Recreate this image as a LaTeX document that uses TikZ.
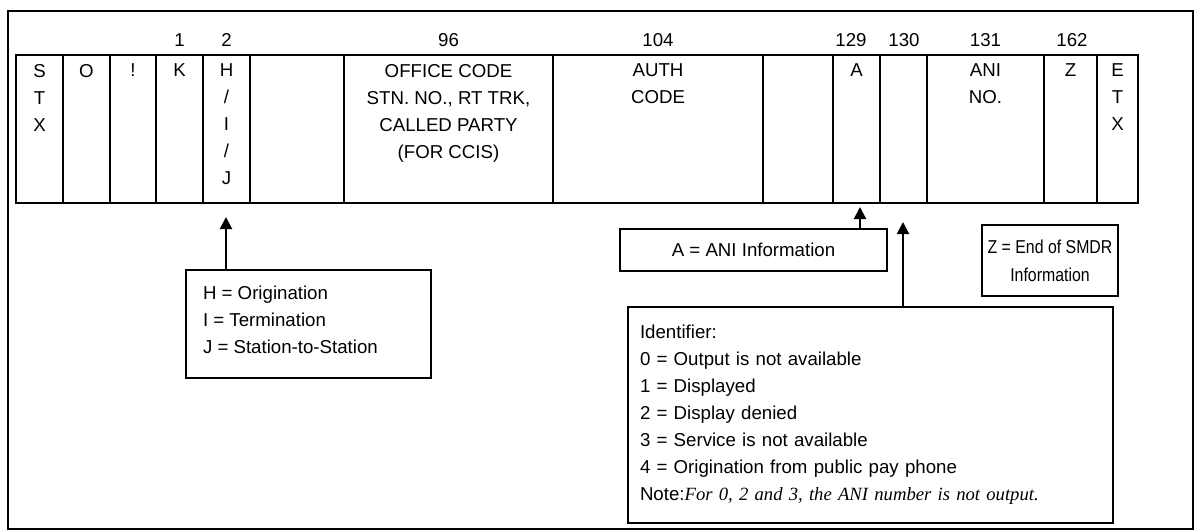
\documentclass[tikz,border=0pt]{standalone}
\usepackage{fontspec}
\usepackage{graphicx}
\setmainfont{Liberation Sans}
\newfontfamily\noteit{Liberation Serif}
\usetikzlibrary{arrows.meta}

\tikzset{
  field/.style={anchor=north,align=center,inner sep=0pt},
  bitnum/.style={inner sep=0pt},
  infobox/.style={draw,line width=1.5pt,inner sep=0pt},
  pointer/.style={line width=1.5pt,-{Triangle[length=9pt,width=9pt]}}
}

\begin{document}
\begin{tikzpicture}[x=0.75pt,y=-0.75pt,line width=1.5pt,
  font=\fontsize{14}{20.25}\selectfont]
  \useasboundingbox (0,0) rectangle (1195,531);
  \draw (8,11) rectangle (1193,529);
  % the record
  \draw (16,55) rectangle (1138,203);
  \foreach \x in {63,110,156,203,250,344,553,763,833,880,927,1044,1097}
    \draw (\x,55) -- (\x,203);
  \node[field] (stx) at (39.5,63) {S\\T\\X};
  \node[field] (o) at (86.5,63) {O};
  \node[field] (excl) at (133,63) {!};
  \node[field] (k) at (179.5,63) {K};
  \node[field] (hij) at (226.5,63) {H\\/\\I\\/\\J};
  \node[field] (office) at (448.5,63) {OFFICE CODE\\STN. NO., RT TRK,\\CALLED PARTY\\(FOR CCIS)};
  \node[field] (auth) at (658,63) {AUTH\\CODE};
  \node[field] (a) at (856.5,63) {A};
  \node[field] (ani) at (985.5,63) {ANI\\NO.};
  \node[field] (z) at (1070.5,63) {Z};
  \node[field] (etx) at (1117.5,63) {E\\T\\X};
  % column numbers
  \node[bitnum] (n1) at (179.5,40) {1};
  \node[bitnum] (n2) at (226.5,40) {2};
  \node[bitnum] (n96) at (448.5,40) {96};
  \node[bitnum] (n104) at (658,40) {104};
  \node[bitnum] (n129) at (851,40) {129};
  \node[bitnum] (n130) at (904,40) {130};
  \node[bitnum] (n131) at (985.5,40) {131};
  \node[bitnum] (n162) at (1072,40) {162};
  % explanation boxes
  \node[infobox,minimum width=183.75pt,minimum height=81pt] (hbox) at (308.5,324) {};
  \node[anchor=north west,inner sep=0pt,align=left] (htext) at (202,285)
    {H = Origination\\I = Termination\\J = Station-to-Station};
  \node[infobox,minimum width=200.25pt,minimum height=31.5pt] (abox) at (753.5,250)
    {A = ANI Information};
  \node[infobox,minimum width=102pt,minimum height=53.25pt,align=center,
    font=\fontsize{14}{21}\selectfont] (zbox) at (1050,260.5)
    {\scalebox{0.85}[1]{Z = End of SMDR}\\\scalebox{0.85}[1]{Information}};
  \node[infobox,minimum width=363.75pt,minimum height=162pt,inner xsep=9pt,
    text width=345.75pt,align=left] (idbox) at (870.5,415)
    {Identifier:\\0 = Output is not available\\1 = Displayed\\2 = Display denied\\
     3 = Service is not available\\4 = Origination from public pay phone\\
     Note:{\noteit\itshape For 0, 2 and 3, the ANI number is not output.}};
  % pointers
  \coordinate (hTip) at (226,217);
  \coordinate (aTip) at (860,207);
  \coordinate (idTip) at (903,222);
  \draw[pointer] (hbox.north -| hTip) -- (hTip);
  \draw[pointer] (abox.north -| aTip) -- (aTip);
  \draw[pointer] (idbox.north -| idTip) -- (idTip);
\end{tikzpicture}
\end{document}
